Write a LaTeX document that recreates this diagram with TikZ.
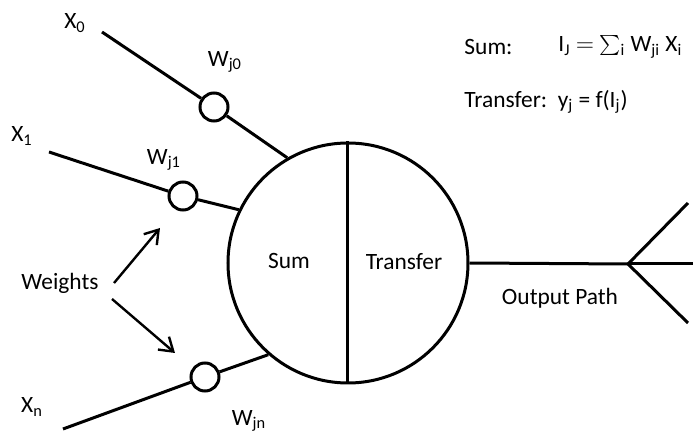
\documentclass[tikz,border=0pt]{standalone}
\usepackage{fontspec}
\setmainfont{Carlito}
\usetikzlibrary{arrows.meta}
\begin{document}
\begin{tikzpicture}[x=0.5pt,y=-0.5pt,line width=1.5pt,
  every node/.style={font=\fontsize{11.7}{13}\selectfont,inner sep=0pt},
  weight/.style={circle,draw,minimum size=14pt},
  neuron/.style={circle,draw,minimum size=120pt},
  pointer/.style={-{Straight Barb[length=6.5pt,width=8.5pt]},line width=1.2pt}]
\useasboundingbox (0,0) rectangle (693,433);

% neuron body split into the summing and transfer halves
\node[neuron] (neuron) at (348,263) {};
\draw (neuron.north) -- (neuron.south);
\node (sumlbl) at (289,261) {Sum};
\node (trlbl) at (404,262) {Transfer};

% weighted inputs
\node[weight] (w0) at (214,107) {};
\node[weight] (w1) at (183,196) {};
\node[weight] (wn) at (205,377) {};
\coordinate (x0end) at (102,32);
\coordinate (x1end) at (49,152);
\coordinate (xnend) at (63,429);
\draw (x0end) -- (w0);
\draw (w0) -- (neuron.120);
\draw (x1end) -- (w1);
\draw (w1) -- (neuron.154);
\draw (xnend) -- (wn);
\draw (wn) -- (neuron.229);

\node (lx0) at (75,23) {X\textsubscript{0}};
\node (lx1) at (22,136) {X\textsubscript{1}};
\node (lxn) at (32,407) {X\textsubscript{n}};
\node (lw0) at (225,62) {W\textsubscript{j0}};
\node (lw1) at (164,160) {W\textsubscript{j1}};
\node (lwn) at (249,421) {W\textsubscript{jn}};

% pointers to the weights
\node (weights) at (60,283) {Weights};
\coordinate (tipup) at (160,228);
\coordinate (tipdown) at (175,353);
\draw[pointer] ([xshift=7pt]weights.east) -- (tipup);
\draw[pointer] ([xshift=6pt,yshift=-8pt]weights.east) -- (tipdown);

% output path with its fan-out
\coordinate (split) at (628,264);
\coordinate (outup) at (688,203);
\coordinate (outmid) at (693,264);
\coordinate (outlow) at (688,323);
\draw (neuron.east) -- (split);
\draw (outup) -- (split) -- (outlow);
\draw (split) -- (outmid);
\node (outlbl) at (560,298) {Output Path};

% equations
\node[anchor=west] (sumhdr) at (463,47) {Sum:};
\node[anchor=west] (sumeq) at (557,47) {I\textsubscript{J} $=$ $\sum$\textsubscript{i} W\textsubscript{ji} X\textsubscript{i}};
\node[anchor=west] (trhdr) at (463,102) {Transfer:\ \ y\textsubscript{j} = f(I\textsubscript{j})};
\end{tikzpicture}
\end{document}
